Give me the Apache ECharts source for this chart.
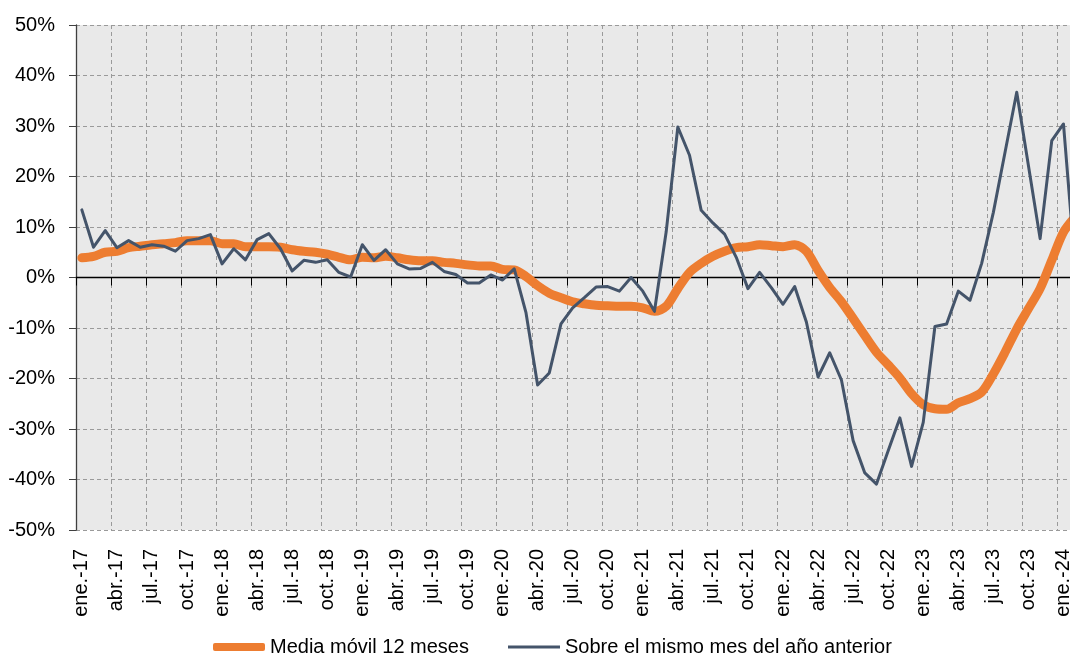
<!DOCTYPE html>
<html>
<head>
<meta charset="utf-8">
<script src="https://cdn.jsdelivr.net/npm/echarts@6/dist/echarts.min.js"></script>
<style>
  html, body { margin: 0; padding: 0; background: #fff; overflow: hidden; }
  #chart { width: 1082px; height: 655px; }
</style>
</head>
<body>
<div id="chart"></div>
<script>
// meses y años del eje x (ene.-17 .. feb.-24)
const meses = ['ene.', 'feb.', 'mar.', 'abr.', 'may.', 'jun.', 'jul.', 'ago.', 'sep.', 'oct.', 'nov.', 'dic.'];
const anios = ['17', '18', '19', '20', '21', '22', '23', '24'];
const nMeses = 86;

const categories = [];
for (let i = 0; i < nMeses; i++) {
  categories.push(meses[i % 12] + '-' + anios[Math.floor(i / 12)]);
}

// Media móvil 12 meses (%)
const mediaMovil = [
  3.9, 4.2, 5.0, 5.2, 5.9, 6.2, 6.5, 6.7, 6.9, 7.3, 7.3, 7.3,
  6.7, 6.7, 6.1, 6.1, 6.1, 6.0, 5.5, 5.2, 5.0, 4.6, 4.0, 3.5,
  4.0, 3.9, 4.2, 3.9, 3.5, 3.3, 3.3, 3.0, 2.8, 2.5, 2.3, 2.3,
  1.6, 1.5, 0.2, -1.6, -3.1, -4.0, -4.8, -5.2, -5.5, -5.6, -5.7, -5.7,
  -6.0, -6.7, -5.7, -2.2, 1.0, 2.8, 4.2, 5.2, 5.9, 6.1, 6.5, 6.3,
  6.1, 6.5, 5.2, 1.4, -2.0, -4.8, -8.1, -11.5, -14.8, -17.3, -19.9, -23.0,
  -25.2, -26.0, -26.1, -24.8, -24.0, -22.7, -19.1, -14.8, -10.2, -6.2, -2.2, 3.4,
  9.0, 12.0
];

// Sobre el mismo mes del año anterior (%)
const mismoMes = [
  13.4, 6.0, 9.3, 5.9, 7.3, 6.0, 6.5, 6.2, 5.2, 7.3, 7.7, 8.5,
  2.7, 5.7, 3.5, 7.5, 8.7, 5.7, 1.3, 3.4, 3.0, 3.5, 1.0, 0.1,
  6.5, 3.4, 5.5, 2.7, 1.7, 1.8, 3.0, 1.2, 0.6, -1.1, -1.1, 0.5,
  -0.5, 1.7, -6.9, -21.3, -18.9, -9.2, -6.0, -4.0, -1.9, -1.8, -2.7, 0.0,
  -2.7, -6.7, 9.0, 29.8, 24.2, 13.3, 10.8, 8.6, 4.0, -2.2, 1.0, -2.0,
  -5.3, -1.8, -8.8, -19.7, -14.9, -20.3, -32.3, -38.7, -40.9, -34.3, -27.8, -37.4,
  -28.7, -9.7, -9.2, -2.7, -4.5, 2.8, 12.9, 24.8, 36.7, 22.2, 7.7, 27.1,
  30.4, 2.0
];

const fontFamily = '"Liberation Sans", Arial, sans-serif';
const gridLine = { type: [4, 3], color: '#9a9a9a', width: 1 };

const myChart = echarts.init(document.getElementById('chart'));
myChart.setOption({
  animation: false,
  textStyle: { fontFamily: fontFamily },
  grid: {
    left: 76,
    right: 1,
    top: 25,
    bottom: 125,
    show: true,
    backgroundColor: '#e9e9e9',
    borderWidth: 0
  },
  legend: [
    {
      data: ['Media móvil 12 meses'],
      left: 208,
      top: 632,
      itemWidth: 52,
      itemHeight: 8,
      icon: 'roundRect',
      textStyle: { fontSize: 20, color: '#000', fontFamily: fontFamily }
    },
    {
      data: ['Sobre el mismo mes del año anterior'],
      left: 503,
      top: 632,
      itemWidth: 52,
      itemHeight: 3,
      icon: 'rect',
      textStyle: { fontSize: 20, color: '#000', fontFamily: fontFamily }
    }
  ],
  xAxis: [
    {
      type: 'category',
      data: categories,
      boundaryGap: true,
      axisLine: { onZero: true, lineStyle: { color: '#000', width: 1.3 } },
      axisTick: { show: true, interval: 2, length: 8, lineStyle: { color: '#000' } },
      axisLabel: { show: false },
      splitLine: { show: true, interval: 2, lineStyle: gridLine }
    },
    {
      type: 'category',
      data: categories,
      position: 'bottom',
      boundaryGap: true,
      axisLine: { show: false, onZero: false },
      axisTick: { show: false },
      axisLabel: {
        interval: 2,
        rotate: 90,
        margin: 19,
        fontSize: 20,
        color: '#000',
        fontFamily: fontFamily
      },
      splitLine: { show: false }
    }
  ],
  yAxis: {
    type: 'value',
    min: -50,
    max: 50,
    interval: 10,
    axisLine: { show: true, lineStyle: { color: '#404040', width: 1.3 } },
    axisTick: { show: true, length: 7, lineStyle: { color: '#404040' } },
    axisLabel: {
      formatter: '{value}%',
      margin: 21,
      fontSize: 20,
      color: '#000',
      fontFamily: fontFamily
    },
    splitLine: { show: true, lineStyle: gridLine }
  },
  series: [
    {
      name: 'Media móvil 12 meses',
      type: 'line',
      data: mediaMovil,
      symbol: 'none',
      smooth: 0.3,
      itemStyle: { color: '#ed7d31' },
      lineStyle: { color: '#ed7d31', width: 9, cap: 'round', join: 'round' }
    },
    {
      name: 'Sobre el mismo mes del año anterior',
      type: 'line',
      data: mismoMes,
      symbol: 'none',
      itemStyle: { color: '#44546a' },
      lineStyle: { color: '#44546a', width: 3, cap: 'round', join: 'round' }
    }
  ]
});
</script>
</body>
</html>
